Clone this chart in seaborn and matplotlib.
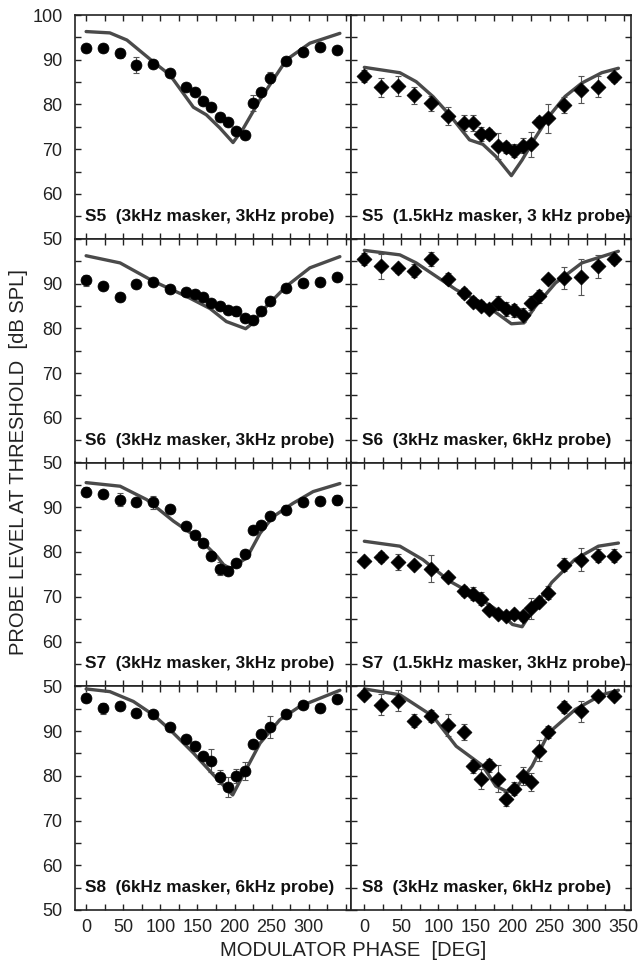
import numpy as np
import pandas as pd
import matplotlib
matplotlib.use("Agg")
import matplotlib.pyplot as plt
import seaborn as sns
from matplotlib.ticker import MultipleLocator

# ---------------- data ----------------
phase = [0, 22.5, 45, 67.5, 90, 112.5, 135, 146.25, 157.5, 168.75, 180,
         191.25, 202.5, 213.75, 225, 236.25, 247.5, 270, 292.5, 315, 337.5]

titles = [
    "S5  (3kHz masker, 3kHz probe)", "S5  (1.5kHz masker, 3 kHz probe)",
    "S6  (3kHz masker, 3kHz probe)", "S6  (3kHz masker, 6kHz probe)",
    "S7  (3kHz masker, 3kHz probe)", "S7  (1.5kHz masker, 3kHz probe)",
    "S8  (6kHz masker, 6kHz probe)", "S8  (3kHz masker, 6kHz probe)",
]

# measured thresholds (dB SPL)
s5_33 = [92.6, 92.6, 91.4, 88.8, 89.1, 87.1, 84.0, 82.7, 80.7, 79.4, 77.1,
         76.2, 74.0, 73.1, 80.3, 82.9, 86.0, 89.7, 91.8, 92.9, 92.2]
s5_33_err = [0, 0, 1.0, 1.8, 0.8, 0, 0, 0, 0, 0, 0,
             0, 0, 0, 1.8, 0.8, 1.2, 0, 0, 0, 0.6]
s5_153 = [86.4, 83.8, 84.2, 82.1, 80.3, 77.5, 75.8, 75.8, 73.4, 73.4, 70.8,
          70.4, 69.7, 70.8, 71.1, 76.1, 76.9, 79.9, 83.3, 84.0, 86.1]
s5_153_err = [1.3, 2.2, 2.2, 1.9, 1.7, 2.0, 1.8, 1.8, 1.5, 1.2, 2.9,
              1.2, 1.5, 1.7, 2.8, 1.0, 3.3, 1.7, 3.0, 2.3, 1.0]
s6_33 = [90.7, 89.5, 87.0, 89.9, 90.3, 88.8, 88.2, 87.7, 86.9, 85.6, 84.9,
         84.0, 83.8, 82.3, 81.9, 83.9, 86.0, 89.1, 90.1, 90.3, 91.4]
s6_33_err = [1.2, 0, 0.8, 0, 0, 0, 0, 0, 0, 0, 0,
             0, 1.0, 0, 0, 0, 0, 0, 0, 0, 0]
s6_36 = [95.5, 93.8, 93.4, 92.9, 95.5, 91.1, 87.9, 85.9, 85.0, 84.4, 85.6,
         84.3, 84.0, 83.0, 85.6, 87.1, 91.0, 91.2, 91.4, 93.8, 95.5]
s6_36_err = [1.3, 2.8, 1.0, 1.5, 1.5, 1.3, 1.2, 1.0, 1.0, 0.8, 1.5,
             1.5, 1.5, 1.5, 1.5, 1.5, 0, 2.5, 4.0, 2.5, 1.2]
s7_33 = [93.5, 93.0, 91.7, 91.1, 91.1, 89.5, 85.9, 83.8, 82.1, 79.2, 76.3,
         75.8, 77.6, 79.6, 84.9, 86.1, 88.0, 89.4, 91.1, 91.5, 91.6]
s7_33_err = [1.0, 0, 1.5, 0, 1.5, 0, 0, 0, 0, 0, 1.5,
             0, 0, 0, 0, 0, 0, 1.0, 0, 0, 1.2]
s7_153 = [78.0, 78.9, 77.7, 77.2, 76.3, 74.4, 71.3, 70.7, 69.6, 67.0, 66.1,
          65.8, 66.1, 65.6, 67.4, 68.9, 70.9, 77.2, 78.3, 79.2, 79.2]
s7_153_err = [0, 1.2, 1.8, 0, 3.0, 0, 1.2, 1.5, 1.5, 0, 0,
              0, 1.0, 1.0, 2.3, 0, 1.5, 1.5, 2.5, 1.5, 1.5]
s8_66 = [97.4, 95.1, 95.6, 94.1, 93.7, 90.8, 88.2, 86.6, 84.5, 83.4, 79.7,
         77.5, 79.9, 81.0, 87.2, 89.4, 90.9, 93.8, 95.9, 95.1, 97.1]
s8_66_err = [0, 1.2, 0, 0, 0, 0, 0, 1.0, 0, 2.5, 1.5,
             2.2, 1.5, 2.0, 0, 0, 2.5, 1.0, 0, 0, 0]
s8_36 = [98.1, 95.9, 96.8, 92.3, 93.3, 91.4, 89.7, 82.1, 79.3, 82.3, 79.3,
         74.8, 77.1, 79.9, 78.6, 85.6, 89.8, 95.4, 94.4, 97.9, 97.9]
s8_36_err = [1.0, 2.3, 2.3, 1.5, 1.3, 2.5, 1.8, 1.5, 2.3, 1.5, 3.0,
             1.5, 1.5, 2.0, 2.0, 2.3, 1.3, 1.3, 2.3, 0, 1.0]

# model predictions
m_s5_33_x = [0, 32, 55, 90, 113, 144.5, 162, 180, 198, 212, 234, 270, 301.6, 342]
m_s5_33_y = [96.3, 96.0, 94.4, 89.6, 86.6, 79.4, 77.7, 74.8, 71.5, 74.7, 81.0, 90.0, 93.7, 95.9]
m_s5_153_x = [0, 48, 70, 92.5, 115, 142, 160, 177.5, 198.5, 213, 229, 249, 271, 293.7, 320.5, 343]
m_s5_153_y = [88.3, 87.1, 85.1, 81.8, 77.7, 72.1, 71.1, 68.4, 64.1, 67.6, 72.1, 77.3, 81.8, 84.8, 87.1, 88.1]
m_s6_33_x = [0, 45.8, 90.6, 135.5, 167, 189, 215, 225, 243, 270, 301.6, 342]
m_s6_33_y = [96.2, 94.6, 90.5, 87.1, 84.4, 81.5, 79.9, 81.2, 84.9, 89.4, 93.5, 96.0]
m_s6_36_x = [0, 48, 70, 97, 124, 160, 182, 198.5, 215.5, 231, 258, 293.7, 343]
m_s6_36_y = [97.4, 96.4, 94.6, 91.6, 88.6, 85.6, 83.0, 81.0, 81.2, 84.9, 90.1, 94.6, 97.2]
m_s7_33_x = [0, 45.8, 81.7, 117.7, 153.5, 176, 185, 194, 216.5, 234.5, 252, 279, 306, 342]
m_s7_33_y = [95.5, 94.7, 91.7, 86.9, 82.8, 79.1, 77.2, 76.3, 78.7, 84.2, 87.9, 90.9, 93.5, 95.3]
m_s7_153_x = [0, 48, 79, 115, 150.6, 177.5, 200, 213, 231, 253, 284, 316, 343]
m_s7_153_y = [82.4, 81.3, 78.3, 73.5, 70.2, 67.2, 63.8, 63.3, 68.0, 73.2, 78.3, 81.3, 82.0]
m_s8_66_x = [0, 32, 63.7, 90.6, 113, 144.5, 171.5, 197.5, 209.5, 234.5, 261, 288, 342]
m_s8_66_y = [99.4, 98.8, 96.6, 93.6, 90.3, 85.1, 80.2, 75.7, 79.5, 87.3, 92.5, 95.5, 99.1]
m_s8_36_x = [0, 48, 92.5, 124, 160, 177.5, 191, 202, 226.6, 249, 284.7, 320.5, 343]
m_s8_36_y = [99.4, 98.1, 93.3, 86.6, 82.2, 77.7, 76.6, 76.6, 82.2, 89.6, 94.8, 98.1, 99.1]

data_sets = [
    (s5_33, s5_33_err, m_s5_33_x, m_s5_33_y, "o"),
    (s5_153, s5_153_err, m_s5_153_x, m_s5_153_y, "D"),
    (s6_33, s6_33_err, m_s6_33_x, m_s6_33_y, "o"),
    (s6_36, s6_36_err, m_s6_36_x, m_s6_36_y, "D"),
    (s7_33, s7_33_err, m_s7_33_x, m_s7_33_y, "o"),
    (s7_153, s7_153_err, m_s7_153_x, m_s7_153_y, "D"),
    (s8_66, s8_66_err, m_s8_66_x, m_s8_66_y, "o"),
    (s8_36, s8_36_err, m_s8_36_x, m_s8_36_y, "D"),
]

# ---------------- plotting ----------------
sns.set_theme(style="ticks")
plt.rcParams["font.family"] = ["Liberation Sans", "DejaVu Sans"]

fig = plt.figure(figsize=(6.41, 9.65), dpi=100)
gs = fig.add_gridspec(4, 2, left=75 / 641, right=631 / 641,
                      top=1 - 15 / 965, bottom=1 - 910 / 965,
                      wspace=0, hspace=0, width_ratios=[276, 280])

line_col = "#4a4a4a"
for i, (vals, errs, mx, my, mk) in enumerate(data_sets):
    r, c = divmod(i, 2)
    ax = fig.add_subplot(gs[r, c])
    df = pd.DataFrame({"phase": phase, "level": vals, "err": errs})
    mdf = pd.DataFrame({"phase": mx, "level": my})

    eb = df[df["err"] > 0]
    ax.errorbar(eb["phase"], eb["level"], yerr=eb["err"], fmt="none",
                ecolor="#555555", elinewidth=0.8, capsize=2.2, capthick=0.8,
                zorder=2)
    sns.lineplot(data=mdf, x="phase", y="level", ax=ax, color=line_col,
                 lw=2.4, zorder=3, sort=False)
    sns.scatterplot(data=df, x="phase", y="level", ax=ax, marker=mk,
                    color="black", s=62 if mk == "o" else 58,
                    edgecolor="black", linewidth=0.5, zorder=4)

    ax.set_ylim(50, 100)
    if c == 0:
        ax.set_xlim(-15, 357)
    else:
        ax.set_xlim(-18, 360)
    ax.set_xlabel("")
    ax.set_ylabel("")

    ax.xaxis.set_major_locator(MultipleLocator(50))
    ax.xaxis.set_minor_locator(MultipleLocator(25))
    ax.yaxis.set_major_locator(MultipleLocator(10))
    ax.yaxis.set_minor_locator(MultipleLocator(5))
    ax.tick_params(which="both", direction="in", top=True, right=True,
                   length=4, width=1.0, color="#222222")
    ax.tick_params(axis="both", labelsize=13, labelcolor="#222222")
    ax.tick_params(axis="y", pad=9)
    ax.tick_params(axis="x", pad=6.5)

    if c == 0:
        if r == 0:
            ax.set_yticks([50, 60, 70, 80, 90, 100])
        else:
            ax.set_yticks([50, 60, 70, 80, 90])
    else:
        ax.tick_params(axis="y", labelleft=False)

    if r == 3:
        if c == 0:
            ax.set_xticks([0, 50, 100, 150, 200, 250, 300])
        else:
            ax.set_xticks([0, 50, 100, 150, 200, 250, 300, 350])
    else:
        ax.tick_params(axis="x", labelbottom=False)

    for sp in ax.spines.values():
        sp.set_linewidth(1.2)
        sp.set_color("#222222")

    ax.text(0.038 if c == 0 else 0.04, 0.08, titles[i], transform=ax.transAxes,
            fontsize=12.4, fontweight="bold", ha="left", va="baseline",
            color="#111111")

fig.text(0.5 * (75 + 631) / 641, 1 - 951 / 965, "MODULATOR PHASE  [DEG]",
         ha="center", va="center", fontsize=14.5, color="#222222")
fig.text(19 / 641, 1 - 462 / 965, "PROBE LEVEL AT THRESHOLD  [dB SPL]",
         ha="center", va="center", rotation=90, fontsize=14.5, color="#222222")

fig.savefig("out.png", dpi=100)
